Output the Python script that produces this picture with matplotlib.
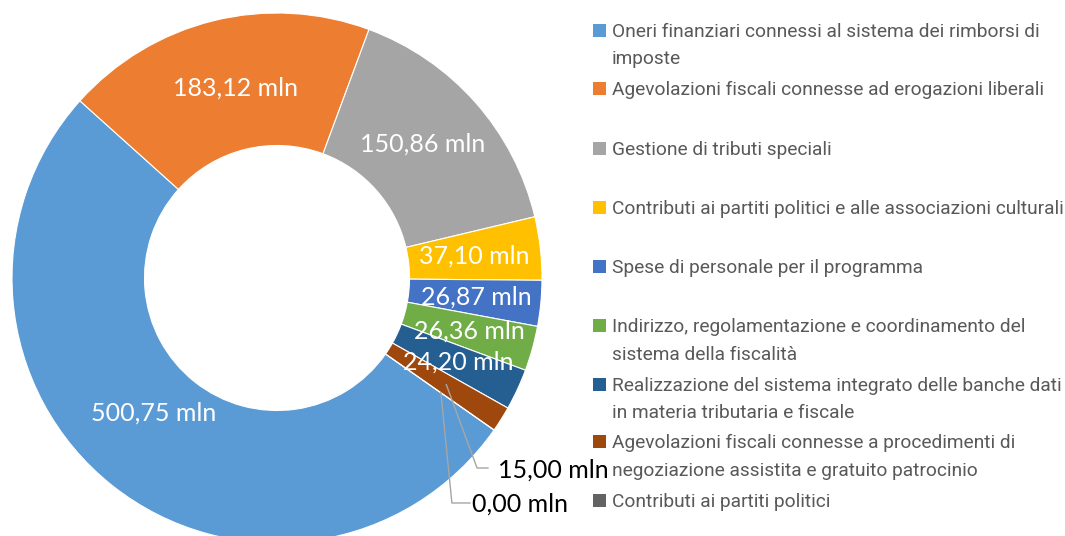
import numpy as np
import matplotlib
matplotlib.use("Agg")
import matplotlib.pyplot as plt
from matplotlib.patches import Rectangle

# ---- data ----
categories = [
    "Oneri finanziari connessi al sistema dei rimborsi di\nimposte",
    "Agevolazioni fiscali connesse ad erogazioni liberali",
    "Gestione di tributi speciali",
    "Contributi ai partiti politici e alle associazioni culturali",
    "Spese di personale per il programma",
    "Indirizzo, regolamentazione e coordinamento del\nsistema della fiscalità",
    "Realizzazione del sistema integrato delle banche dati\nin materia tributaria e fiscale",
    "Agevolazioni fiscali connesse a procedimenti di\nnegoziazione assistita e gratuito patrocinio",
    "Contributi ai partiti politici",
]
values = [500.75, 183.12, 150.86, 37.10, 26.87, 26.36, 24.20, 15.00, 0.00]
colors = ["#5B9BD5", "#ED7D31", "#A5A5A5", "#FFC000", "#4472C4",
          "#70AD47", "#255E91", "#9E480E", "#636363"]

W, H = 1065, 536
fig = plt.figure(figsize=(W / 100, H / 100), dpi=100)

cx, cy, R = 277, 278, 265  # pixel centre (from top) and radius
ax = fig.add_axes([(cx - R) / W, (H - cy - R) / H, 2 * R / W, 2 * R / H])
wedges, _ = ax.pie(values, colors=colors, startangle=-35, counterclock=False,
                   radius=1.0,
                   wedgeprops=dict(width=0.5, edgecolor="white", linewidth=0.8))
ax.set_xlim(-1, 1)
ax.set_ylim(-1, 1)
ax.set_aspect("equal")
ax.axis("off")

def fmt(v):
    return f"{v:.2f}".replace(".", ",") + " mln"

label_font = "Lato"
inside_r = [0.69, 0.735, 0.745, 0.75, 0.755, 0.755, 0.755]
ang_off = [-4, -1.5, 1, 0, 0, 0, 0]
for i in range(7):
    w = wedges[i]
    ang = np.deg2rad((w.theta1 + w.theta2) / 2 + ang_off[i])
    r = inside_r[i]
    ax.text(r * np.cos(ang), r * np.sin(ang), fmt(values[i]), color="white",
            ha="center", va="center", fontsize=18, family=label_font)

# leader-line labels for the two smallest slices
leader = {
    7: dict(elbow=(0.755, -0.717), end=(0.796, -0.717), text=(0.834, -0.724)),
    8: dict(elbow=(0.660, -0.849), end=(0.728, -0.849), text=(0.736, -0.853)),
}
for i, spec in leader.items():
    w = wedges[i]
    ang = np.deg2rad((w.theta1 + w.theta2) / 2)
    ax0 = 0.755 * np.cos(ang)
    ay0 = 0.755 * np.sin(ang)
    ex, ey = spec["elbow"]
    hx, hy = spec["end"]
    ax.plot([ax0, ex, hx], [ay0, ey, hy], color="#A6A6A6", lw=1.0,
            solid_joinstyle="miter", clip_on=False)
    tx, ty = spec["text"]
    ax.text(tx, ty, fmt(values[i]), color="black", ha="left", va="center",
            fontsize=18, family=label_font, clip_on=False)

# ---- legend (manual) ----
entry_y = [30, 88, 148, 207, 266, 325, 384, 441, 500]
line_gap = 27.5
for lab, col, y in zip(categories, colors, entry_y):
    fig.patches.append(Rectangle((593 / W, 1 - (y + 6.5) / H), 13 / W, 13 / H,
                                 transform=fig.transFigure, facecolor=col,
                                 edgecolor="none"))
    for k, line in enumerate(lab.split("\n")):
        fig.text(612 / W, 1 - (y + k * line_gap) / H, line, color="#595959",
                 ha="left", va="center_baseline", fontsize=13.8,
                 family="Roboto")

fig.savefig("out.png", dpi=100)
